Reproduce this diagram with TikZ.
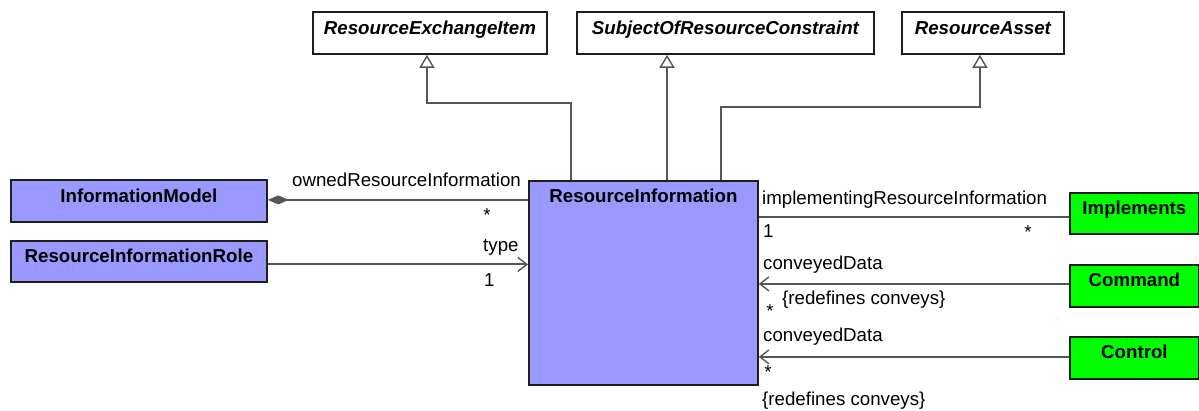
\documentclass[tikz,border=0pt]{standalone}
\usepackage{fontspec}
\setmainfont{Liberation Sans}
\usetikzlibrary{arrows.meta}
\definecolor{riblue}{HTML}{9999FF}
\definecolor{implgreen}{HTML}{00FF00}
\definecolor{linegray}{HTML}{555555}
\definecolor{boxline}{HTML}{1E1E1E}
\tikzset{
  cls/.style={draw=boxline, line width=1.8pt, inner xsep=0pt, inner ysep=0pt,
    text height=23pt, text depth=19pt, anchor=north west,
    font=\fontsize{18.7}{22}\selectfont\bfseries},
  bluecls/.style={cls, fill=riblue},
  greencls/.style={cls, fill=implgreen},
  abstractcls/.style={cls, fill=white, font=\fontsize{18.7}{22}\selectfont\bfseries\itshape},
  assoc/.style={draw=linegray, line width=1.8pt},
  gen/.style={draw=linegray, line width=1.8pt, -{Triangle[open, length=13pt, width=15pt, line width=1.4pt, fill=white]}},
  navarrow/.style={-{Straight Barb[length=9pt, width=14pt, line width=1.4pt]}},
  lbl/.style={inner sep=0pt, anchor=base west, font=\fontsize{18.7}{22}\selectfont},
  star/.style={inner sep=0pt, anchor=base, font=\fontsize{18.7}{22}\selectfont}
}
\begin{document}
\begin{tikzpicture}[x=1pt, y=-1pt]
\useasboundingbox (0,0) rectangle (1199,411);

% classes
\node[abstractcls, minimum width=234pt] (rei) at (312,11) {ResourceExchangeItem};
\node[abstractcls, minimum width=297pt] (sorc) at (576,11) {SubjectOfResourceConstraint};
\node[abstractcls, minimum width=162pt] (ra) at (901,11) {ResourceAsset};

\node[bluecls, minimum width=256pt] (im) at (10,179) {InformationModel};
\node[bluecls, minimum width=256pt, text height=22pt] (rir) at (10,240) {ResourceInformationRole};
\node[bluecls, minimum width=229pt, text height=22pt, text depth=182pt] (ri) at (528,180) {ResourceInformation};

\node[greencls, minimum width=129pt, text height=22pt] (impl) at (1069,192) {Implements};
\node[greencls, minimum width=129pt, text height=22pt, text depth=20pt] (cmd) at (1069,264) {Command};
\node[greencls, minimum width=129pt, text height=22pt, text depth=20pt] (ctl) at (1069,336) {Control};

% generalizations
\draw[gen] ([xshift=43pt]ri.north west) -- ++(0,-77) -| ([xshift=-3pt]rei.south);
\coordinate (g2) at ([xshift=139pt]ri.north west);
\draw[gen] (g2) -- (g2 |- sorc.south);
\draw[gen] ([xshift=193pt]ri.north west) -- ++(0,-73) -| ([xshift=-3pt]ra.south);

% associations
\coordinate (c0) at ([yshift=1pt]im.east);
\draw[assoc, {Diamond[length=21pt, width=9pt, fill=linegray, line width=1pt]}-] (c0) -- (c0 -| ri.west);
\coordinate (c1) at ([yshift=-3pt]rir.east);
\draw[assoc, navarrow] (c1) -- (c1 -| ri.west);
\coordinate (c2) at ([yshift=-4pt]impl.west);
\draw[assoc] (c2) -- (c2 -| ri.east);
\coordinate (c3) at ([yshift=2pt]cmd.west);
\draw[assoc, navarrow] (c3) -- (c3 -| ri.east);
\coordinate (c4) at ([yshift=1pt]ctl.west);
\draw[assoc, navarrow] (c4) -- (c4 -| ri.east);

% role labels
\node[lbl] (l1) at (292,187) {ownedResourceInformation};
\node[star] (s1) at (487,222) {*};
\node[lbl] (l2) at (483,252) {type};
\node[lbl] (l3) at (484,287) {1};
\node[lbl] (l4) at (762,205) {implementingResourceInformation};
\node[lbl] (l5) at (763,238) {1};
\node[star] (s2) at (1028,239) {*};
\node[lbl] (l6) at (763,270) {conveyedData};
\node[star] (s3) at (770,318) {*};
\node[lbl] (l7) at (782,305) {\{redefines conveys\}};
\node[lbl] (l8) at (763,342) {conveyedData};
\node[star] (s4) at (768,378) {*};
\node[lbl] (l9) at (762,405) {\{redefines conveys\}};
\end{tikzpicture}
\end{document}
